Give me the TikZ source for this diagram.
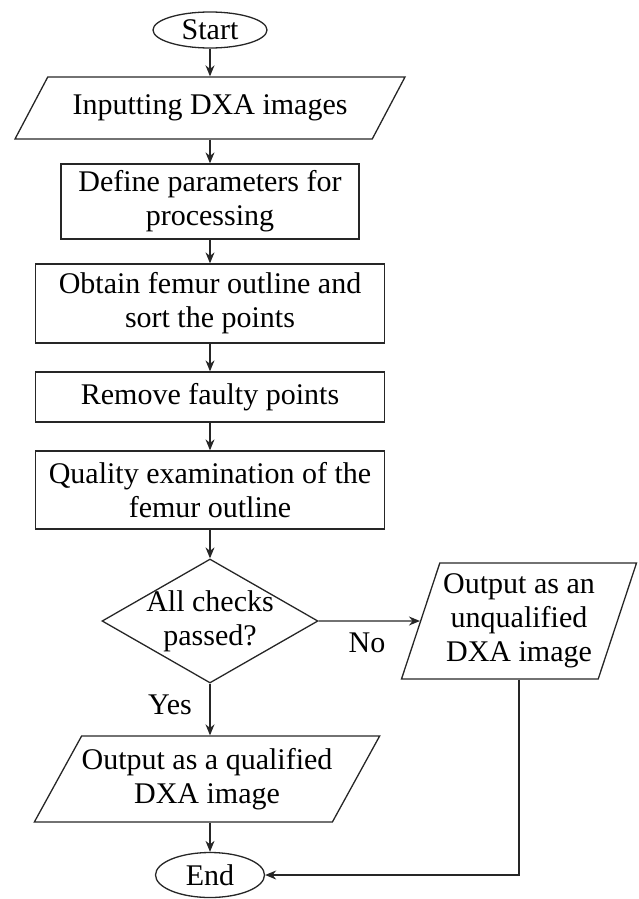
\documentclass[tikz,border=0pt]{standalone}
\usepackage{fontspec}
\setmainfont{Liberation Serif}
\usetikzlibrary{shapes.geometric,arrows.meta}

\begin{document}
\begin{tikzpicture}[
		x=1pt,y=-1pt,
		every node/.style={font=\fontsize{30}{34}\selectfont,align=center,inner sep=0pt},
		terminal/.style={draw=black!85,ellipse,line width=1.3pt},
		process/.style={draw=black!85,rectangle,line width=1.3pt,minimum width=349pt},
		io/.style={draw=black!85,trapezium,trapezium stretches body,line width=1.3pt},
		decision/.style={draw=black!85,diamond,aspect=1.74,inner sep=-5pt,line width=1.3pt},
		flow/.style={draw=black!85,line width=1.3pt,-{Stealth[length=11pt,width=9pt]}}
	]
	\useasboundingbox (0,0) rectangle (639,899);
	\node[terminal,minimum width=114pt,minimum height=36pt] (start) at (210,30) {Start};
	\node[io,trapezium left angle=38.8,trapezium right angle=141.2,
		minimum width=390pt,minimum height=62pt] (inp) at (210,108) {Inputting DXA images};
	\node[process,minimum width=298pt,minimum height=75pt] (def) at (210,201.5) {Define parameters for\\processing};
	\node[process,minimum height=79pt] (obt) at (210,303.5) {Obtain femur outline and\\sort the points};
	\node[process,minimum height=50pt] (rem) at (210,397) {Remove faulty points};
	\node[process,minimum height=78pt] (qua) at (210,490) {Quality examination of the\\femur outline};
	\node[decision,minimum width=216pt,minimum height=124pt] (dec) at (210,621) {All checks\\passed?};
	\node[io,trapezium left angle=67.9,trapezium right angle=112.1,
		minimum width=235pt,minimum height=116pt] (unq) at (519,621) {Output as an\\unqualified\\DXA image};
	\node[io,trapezium left angle=52.5,trapezium right angle=127.5,
		minimum width=327pt,minimum height=86pt] (qual) at (207,779) {Output as a qualified\\DXA image};
	\node[terminal,minimum width=109pt,minimum height=45pt] (end) at (210,875) {End};
	\node (no) at (367,643) {No};
	\node (yes) at (170,705) {Yes};

	\draw[flow] (start) -- (inp);
	\draw[flow] (inp.south -| start) -- (def);
	\draw[flow] (def) -- (obt);
	\draw[flow] (obt) -- (rem);
	\draw[flow] (rem) -- (qua);
	\draw[flow] (qua) -- (dec);
	\draw[flow] (dec) -- (unq);
	\draw[flow] (dec.south) -- (dec.south |- qual.north);
	\draw[flow] (qual.south -| end) -- (end);
	\draw[flow] (unq.center |- unq.south) |- (end.east);
\end{tikzpicture}
\end{document}
